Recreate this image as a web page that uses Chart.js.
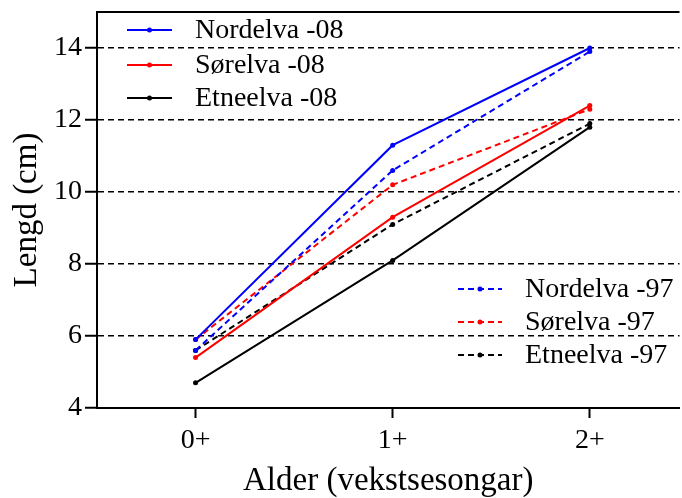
<!DOCTYPE html>
<html>
<head>
<meta charset="utf-8">
<script src="https://cdn.jsdelivr.net/npm/chart.js@4.4.1/dist/chart.umd.min.js"></script>
<style>
  html, body { margin: 0; padding: 0; background: #fff; }
  #wrap { width: 682px; height: 498px; position: relative; }
</style>
</head>
<body>
<div id="wrap"><canvas id="chartLengd"></canvas></div>
<script>
// Lengd etter alder - tre elvar, 2008 mot 1997
const xLabels = ['0+', '1+', '2+'];
const yTicks = [4, 6, 8, 10, 12, 14];

const nordelva08 = [5.9, 11.3, 14.0];
const sorelva08 = [5.4, 9.3, 12.4];
const etneelva08 = [4.7, 8.1, 11.8];
const nordelva97 = [5.6, 10.6, 13.9];
const sorelva97 = [5.9, 10.2, 12.3];
const etneelva97 = [5.6, 9.1, 11.9];

const FONT = "'Liberation Serif', 'Times New Roman', serif";

function serie(label, verdiar, farge, stipla) {
    return {
        label: label,
        data: verdiar.map((v, i) => ({ x: i, y: v })),
        borderColor: farge,
        backgroundColor: farge,
        borderWidth: 2,
        borderDash: stipla ? [6, 4] : [],
        pointRadius: 2.5,
        pointHoverRadius: 2.5,
        pointBorderWidth: 0,
        tension: 0,
        fill: false
    };
}

// Eigen forklaring: to grupper, plassert inne i plottet
const forklaring = {
    id: 'forklaring',
    afterDatasetsDraw(chart) {
        const ctx = chart.ctx;
        const grupper = [
            { idx: [0, 1, 2], x0: 127, x1: 172, tx: 195, y: [30, 65, 98] },
            { idx: [3, 4, 5], x0: 458, x1: 502, tx: 525, y: [289, 322, 355] }
        ];
        ctx.save();
        ctx.font = '28px ' + FONT;
        ctx.textBaseline = 'middle';
        ctx.fillStyle = '#000';
        grupper.forEach(g => {
            g.idx.forEach((d, k) => {
                const ds = chart.data.datasets[d];
                const y = g.y[k];
                ctx.strokeStyle = ds.borderColor;
                ctx.lineWidth = 2;
                ctx.setLineDash(ds.borderDash);
                ctx.beginPath();
                ctx.moveTo(g.x0, y);
                ctx.lineTo(g.x1, y);
                ctx.stroke();
                ctx.setLineDash([]);
                ctx.fillStyle = ds.borderColor;
                ctx.beginPath();
                ctx.arc((g.x0 + g.x1) / 2, y, 2.5, 0, Math.PI * 2);
                ctx.fill();
                ctx.fillStyle = '#000';
                ctx.fillText(ds.label, g.tx, y + 1);
            });
        });
        ctx.restore();
    }
};

// Topplinje på ramma
const ramme = {
    id: 'ramme',
    afterDraw(chart) {
        const { ctx, chartArea } = chart;
        ctx.save();
        ctx.strokeStyle = '#000';
        ctx.lineWidth = 2;
        ctx.beginPath();
        ctx.moveTo(chartArea.left, chartArea.top);
        ctx.lineTo(chartArea.right, chartArea.top);
        ctx.stroke();
        ctx.restore();
    }
};

const ctx = document.getElementById('chartLengd').getContext('2d');
new Chart(ctx, {
    type: 'line',
    data: {
        datasets: [
            serie('Nordelva -08', nordelva08, '#0000ff', false),
            serie('Sørelva -08', sorelva08, '#ff0000', false),
            serie('Etneelva -08', etneelva08, '#000000', false),
            serie('Nordelva -97', nordelva97, '#0000ff', true),
            serie('Sørelva -97', sorelva97, '#ff0000', true),
            serie('Etneelva -97', etneelva97, '#000000', true)
        ]
    },
    options: {
        responsive: true,
        maintainAspectRatio: false,
        animation: false,
        layout: { padding: { top: 12, right: 0, left: 0, bottom: 0 } },
        plugins: { legend: { display: false }, tooltip: { enabled: false } },
        scales: {
            x: {
                type: 'linear',
                min: -0.5,
                max: 2.455,
                afterBuildTicks: s => { s.ticks = xLabels.map((_, i) => ({ value: i })); },
                afterFit: s => { s.height = 90; s.paddingLeft = 0; s.paddingRight = 0; },
                ticks: {
                    callback: v => xLabels[v],
                    color: '#000',
                    font: { family: FONT, size: 28 },
                    padding: 6,
                    maxRotation: 0
                },
                grid: { drawOnChartArea: false, drawTicks: true, tickLength: 10, tickWidth: 2, tickColor: '#000' },
                border: { color: '#000', width: 2 },
                title: {
                    display: true,
                    text: 'Alder (vekstsesongar)',
                    color: '#000',
                    font: { family: FONT, size: 33, lineHeight: 1 },
                    padding: { top: 0, bottom: 0 }
                }
            },
            y: {
                min: 4,
                max: 15,
                afterBuildTicks: s => { s.ticks = yTicks.map(v => ({ value: v })); },
                afterFit: s => { s.width = 97; s.paddingTop = 0; s.paddingBottom = 0; },
                ticks: {
                    color: '#000',
                    font: { family: FONT, size: 28 },
                    padding: 3
                },
                grid: {
                    color: '#000',
                    lineWidth: 1.5,
                    tickLength: 12,
                    tickWidth: 2,
                    tickColor: '#000',
                    tickBorderDash: []
                },
                border: { color: '#000', width: 2, dash: [6, 4] },
                title: {
                    display: true,
                    text: 'Lengd (cm)',
                    color: '#000',
                    font: { family: FONT, size: 33, lineHeight: 1 },
                    padding: { top: 11, bottom: 0 }
                }
            }
        }
    },
    plugins: [forklaring, ramme]
});
</script>
</body>
</html>
